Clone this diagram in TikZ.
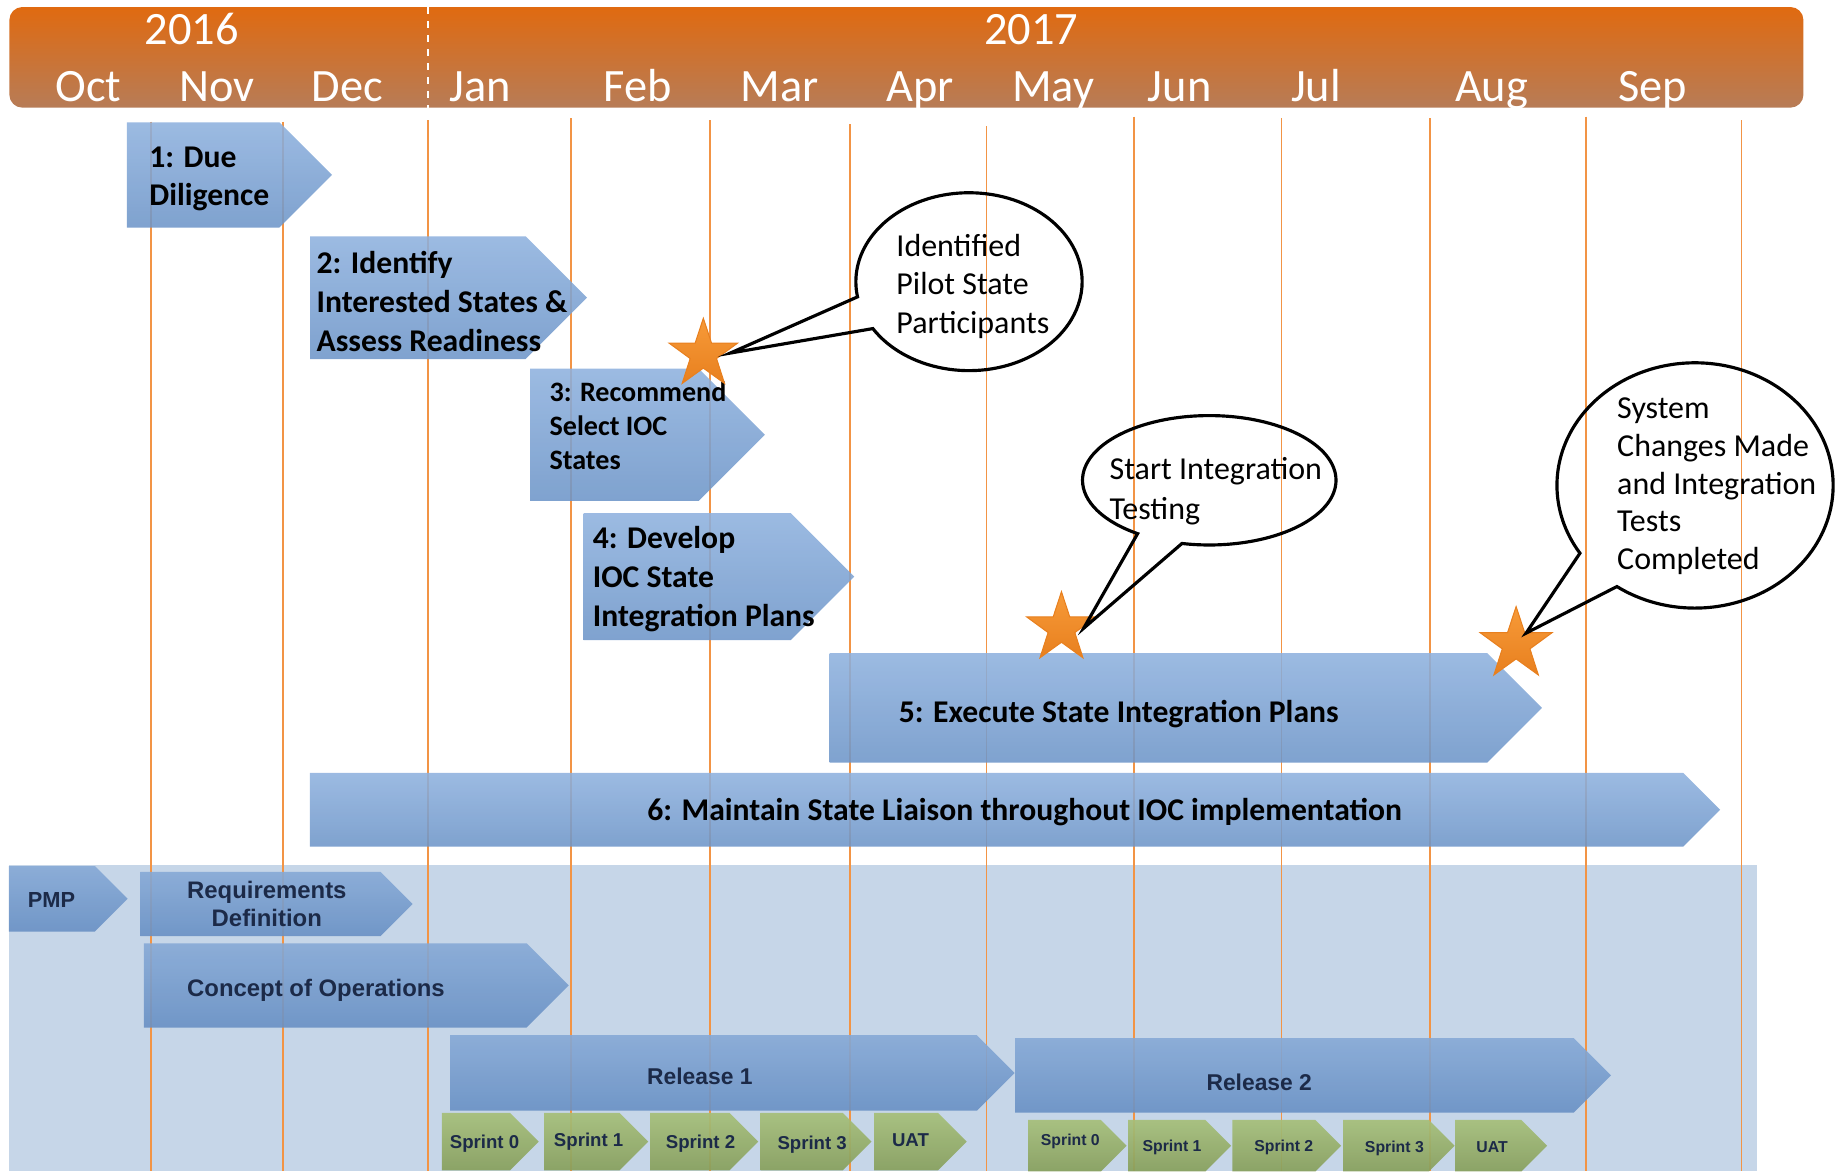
\documentclass[tikz,border=0pt]{standalone}
\usepackage{fontspec}
\usepackage{color}
\setmainfont{Carlito}
\newfontfamily\arialfont{Liberation Sans}
\usetikzlibrary{shapes,shapes.geometric,shapes.callouts,positioning,calc}

\definecolor{bartop}{HTML}{E06A10}
\definecolor{barbot}{HTML}{B77C57}
\definecolor{boxtop}{HTML}{8EB1DE}
\definecolor{boxbot}{HTML}{6D95C8}
\definecolor{lowtop}{HTML}{86A9D6}
\definecolor{lowbot}{HTML}{6890C4}
\definecolor{greentop}{HTML}{A6BF79}
\definecolor{greenbot}{HTML}{879F5C}
\definecolor{bgblue}{HTML}{C6D6E8}
\definecolor{gridorange}{HTML}{F29445}
\definecolor{navy}{HTML}{1C2A48}
\definecolor{startop}{HTML}{F79A38}
\definecolor{starbot}{HTML}{E8801F}

% chevron: style, left, top, right (tip), bottom
\newcommand{\chev}[5]{%
  \path[#1] (#2,#3) -- ({#4-0.5*(#5-#3)},#3) -- (#4,{0.5*(#3+#5)})
    -- ({#4-0.5*(#5-#3)},#5) -- (#2,#5) -- cycle;}

\begin{document}
\begin{tikzpicture}[x=0.011703cm,y=-0.011703cm,
  month/.style={font=\fontsize{13.2}{15}\selectfont,text=white,inner sep=0,anchor=base},
  topbox/.style={top color=boxtop,bottom color=boxbot,fill opacity=0.88},
  lowbox/.style={top color=lowtop,bottom color=lowbot,fill opacity=0.9},
  sprintbox/.style={top color=greentop,bottom color=greenbot,fill opacity=0.92},
  monthline/.style={gridorange,line width=0.5pt}]
  \tikzstyle{boxtext} = [font=\bfseries\fontsize{9}{11}\selectfont,align=left,anchor=base west,inner sep=0]
  \tikzstyle{lowtext} = [font=\arialfont\bfseries\fontsize{6.8}{8.1}\selectfont,text=navy,align=center,anchor=base,inner sep=0]
  \tikzstyle{sprinttext} = [font=\arialfont\bfseries\fontsize{5.3}{6}\selectfont,text=navy,anchor=base,inner sep=0]
  \tikzstyle{bubtext} = [font=\fontsize{9.1}{10.9}\selectfont,align=left,anchor=base west,inner sep=0]
  \tikzstyle{bubble} = [ellipse callout,draw=black,line width=0.9pt,callout pointer arc=22,inner sep=0]
  \tikzstyle{milestone} = [star,star points=5,star point ratio=2.6,inner sep=0,top color=startop,bottom color=starbot,draw=starbot,line width=0.3pt]
  \useasboundingbox (0,0) rectangle (1568,1001);

  \path[top color=bartop,bottom color=barbot,rounded corners=3.7pt] (8,6) rectangle (1541,92);
  \draw[white,line width=0.6pt,dash pattern=on 2pt off 2pt] (366,6) -- (366,92);
  \node[month] (y_2016) at (163.8,37.6) {2016};
  \node[month] (y_2017) at (881,37.6) {2017};
  \foreach \mx/\mn in {75.7/Oct,185.6/Nov,297/Dec,410.5/Jan,545/Feb,666/Mar,786/Apr,900/May,1008/Jun,1124.5/Jul,1274.6/Aug,1412/Sep}
    \node[month] (m_\mn) at (\mx,87) {\mn};

  \fill[bgblue] (7.5,739) rectangle (1501,1001);
  \foreach \lx/\ly in {129/104,242/104,366/102.6,488/101,607/102.6,726/106,843/107.7,969/99.7,1095/101,1222/101,1355/99.7,1488/102.6}
    \draw[monthline] (\lx,\ly) -- (\lx,1001);

  \chev{topbox}{108.5}{104.5}{283.7}{194.5}
  \node[boxtext] (box_1) at (127,176) {1: Due\\Diligence};
  \chev{topbox}{265}{202}{501.6}{306.8}
  \node[boxtext] (box_2) at (270,300) {2: Identify\\Interested States \&\\Assess Readiness};
  \chev{topbox}{453}{315}{653.5}{428}
  \node[boxtext,font=\bfseries\fontsize{8}{9.6}\selectfont] (box_3) at (469,401) {3: Recommend\\Select IOC\\States};
  \chev{topbox}{498.8}{438.5}{730}{547}
  \node[boxtext] (box_4) at (506,535) {4: Develop\\IOC State\\Integration Plans};
  \chev{topbox}{709}{558}{1317.6}{651.7}
  \node[boxtext,anchor=base] (box_5) at (956,617) {5: Execute State Integration Plans};
  \chev{topbox}{264.8}{660.5}{1469.8}{723.5}
  \node[boxtext,anchor=base] (box_6) at (875.5,701) {6: Maintain State Liaison throughout IOC implementation};

  \chev{lowbox}{7.5}{740}{109}{796}
  \node[lowtext,font=\arialfont\bfseries\fontsize{6.2}{7}\selectfont] (pmp) at (44,775.6) {PMP};
  \chev{lowbox}{120}{745}{352.6}{800}
  \node[lowtext] (req) at (228,791.8) {Requirements\\Definition};
  \chev{lowbox}{123}{806}{486}{878}
  \node[lowtext] (conops) at (270,851.6) {Concept of Operations};
  \chev{lowbox}{384.6}{884.6}{867}{949}
  \node[lowtext,font=\arialfont\bfseries\fontsize{6.5}{8}\selectfont] (rel_1) at (598,927) {Release 1};
  \chev{lowbox}{867.4}{887}{1376.6}{950.8}
  \node[lowtext,font=\arialfont\bfseries\fontsize{6.5}{8}\selectfont] (rel_2) at (1076,932) {Release 2};

  \foreach \xa/\xb/\tx/\ty/\txt [count=\i] in {377.6/460.3/414/981/Sprint 0,465/554/503/980/Sprint 1,555.6/648/598.6/981/Sprint 2,650/744.7/694/982.6/Sprint 3,747/826/778/980/UAT}{
    \chev{sprintbox}{\xa}{951}{\xb}{1000}
    \node[sprinttext] (r1_s\i) at (\tx,\ty) {\txt};
  }
  \foreach \xa/\xb/\tx/\ty/\txt [count=\i] in {878.5/962.7/914.6/978.4/Sprint 0,964/1052/1001.5/984/Sprint 1,1053/1146/1097/984/Sprint 2,1147.6/1243/1191.5/984.4/Sprint 3,1243.4/1322/1275/984.4/UAT}{
    \chev{sprintbox}{\xa}{957}{\xb}{1001}
    \node[sprinttext,font=\arialfont\bfseries\fontsize{4.5}{5}\selectfont] (r2_s\i) at (\tx,\ty) {\txt};
  }

  \node[milestone,minimum size=0.72cm] (star_1) at (601,302.7) {};
  \node[milestone,minimum size=0.73cm] (star_2) at (907,536.8) {};
  \node[milestone,minimum size=0.756cm] (star_3) at (1295.5,550.6) {};
  \coordinate (tip_1) at ($(star_1.center)+(23,-1)$);
  \coordinate (tip_2) at ($(star_2.center)+(19,0)$);
  \coordinate (tip_3) at ($(star_3.center)+(8.5,-9.6)$);

  \node[bubble,minimum width=2.263cm,minimum height=1.779cm,callout absolute pointer={(tip_1)}] (bub_1) at (828,240.7) {};
  \node[bubtext] (bub_1_text) at (765.4,284.8) {Identified\\Pilot State\\Participants};
  \node[bubble,minimum width=2.535cm,minimum height=1.294cm,callout absolute pointer={(tip_2)}] (bub_2) at (1033.3,410.4) {};
  \node[bubtext,font=\fontsize{9.1}{11.2}\selectfont] (bub_2_text) at (947.6,443.5) {Start Integration\\Testing};
  \node[bubble,minimum width=2.762cm,minimum height=2.453cm,callout absolute pointer={(tip_3)}] (bub_3) at (1448.4,414.8) {};
  \node[bubtext,font=\fontsize{9.1}{10.8}\selectfont] (bub_3_text) at (1381.3,487) {System\\Changes Made\\and Integration\\Tests\\Completed};
\end{tikzpicture}
\end{document}
